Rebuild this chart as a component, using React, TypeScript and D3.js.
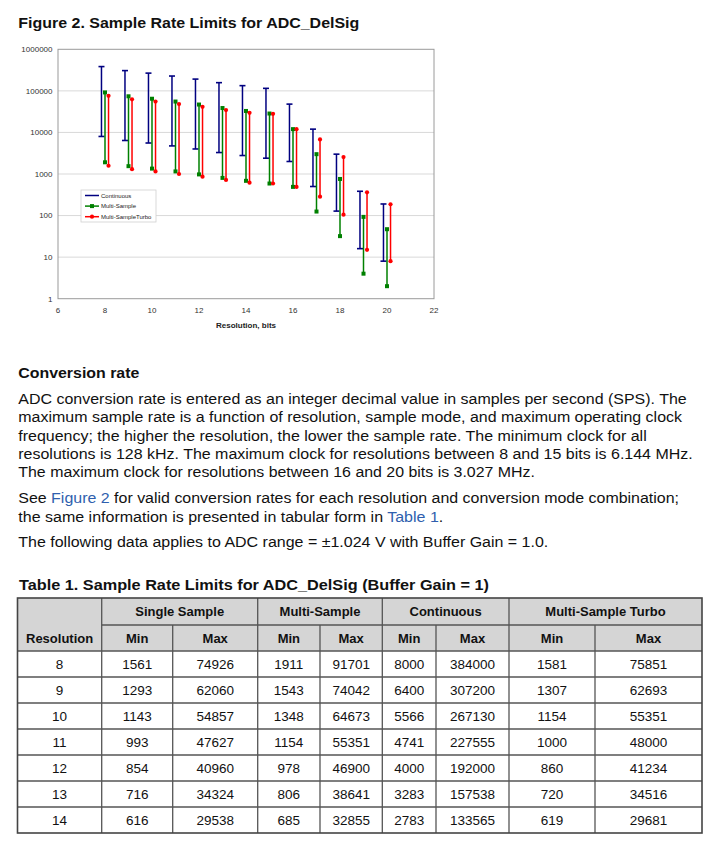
import React, {useEffect, useRef} from 'react';
import * as d3 from 'd3';

// chart data (8..14 from Table 1, 15..20)
const resolutions = [8, 9, 10, 11, 12, 13, 14, 15, 16, 17, 18, 19, 20];
const continuousMin = [8000, 6400, 5566, 4741, 4000, 3283, 2783, 2400, 2000, 500, 128, 16, 8];
const continuousMax = [384000, 307200, 267130, 227555, 192000, 157538, 133565, 115000, 48000, 12000, 3000, 384, 190];
const multiMin = [1911, 1543, 1348, 1154, 978, 806, 685, 590, 490, 125, 32, 4, 2];
const multiMax = [91701, 74042, 64673, 55351, 46900, 38641, 32855, 28500, 12000, 3000, 760, 93, 47];
const turboMin = [1581, 1307, 1154, 1000, 860, 720, 619, 590, 490, 285, 105, 15, 8];
const turboMax = [75851, 62693, 55351, 48000, 41234, 34516, 29681, 28000, 12000, 6800, 2560, 362, 187];

const seriesNames = ['Continuous', 'Multi-Sample', 'Multi-SampleTurbo'];
const xTicks = [6, 8, 10, 12, 14, 16, 18, 20, 22];
const yTicks = [1, 10, 100, 1000, 10000, 100000, 1000000];

// table data
const tableGroups = ['Single Sample', 'Multi-Sample', 'Continuous', 'Multi-Sample Turbo'];
const tableRows = 7;
const singleMin = [1561, 1293, 1143, 993, 854, 716, 616];
const singleMax = [74926, 62060, 54857, 47627, 40960, 34324, 29538];

const figureTitle = 'Figure 2. Sample Rate Limits for ADC_DelSig';
const sectionTitle = 'Conversion rate';
const tableTitle = 'Table 1. Sample Rate Limits for ADC_DelSig (Buffer Gain = 1)';
const paragraphLines = [
  'ADC conversion rate is entered as an integer decimal value in samples per second (SPS). The',
  'maximum sample rate is a function of resolution, sample mode, and maximum operating clock',
  'frequency; the higher the resolution, the lower the sample rate. The minimum clock for all',
  'resolutions is 128 kHz. The maximum clock for resolutions between 8 and 15 bits is 6.144 MHz.',
  'The maximum clock for resolutions between 16 and 20 bits is 3.027 MHz.',
];
const seeLines = [
  ['See ', 'Figure 2', ' for valid conversion rates for each resolution and conversion mode combination;'],
  ['the same information is presented in tabular form in ', 'Table 1', '.'],
];
const noteLine = 'The following data applies to ADC range = \u00b11.024 V with Buffer Gain = 1.0.';

const FONT = '"Liberation Sans", Arial, Helvetica, sans-serif';
const NARROW = '"Liberation Sans Narrow", "Arial Narrow", "Liberation Sans", Arial, sans-serif';
const LINK = '#2f5fae';

function Chart() {
  const ref = useRef<SVGGElement>(null);

  useEffect(() => {
    if (!ref.current) return;
    const root = d3.select(ref.current);
    root.selectAll('*').remove();

    const plot = {left: 58, right: 434, top: 49.3, bottom: 298.7};
    const x = d3.scaleLinear().domain([6, 22]).range([plot.left, plot.right]);
    const y = d3.scaleLog().domain([1, 1000000]).range([plot.bottom, plot.top]);

    root.selectAll('line.grid')
      .data(yTicks.slice(1, -1))
      .enter().append('line')
      .attr('x1', plot.left).attr('x2', plot.right)
      .attr('y1', d => y(d)).attr('y2', d => y(d))
      .attr('stroke', '#d9d9d9').attr('stroke-width', 1);

    root.append('rect')
      .attr('x', plot.left).attr('y', plot.top)
      .attr('width', plot.right - plot.left).attr('height', plot.bottom - plot.top)
      .attr('fill', 'none').attr('stroke', '#9a9a9a').attr('stroke-width', 1);

    root.selectAll('text.ytick')
      .data(yTicks)
      .enter().append('text')
      .attr('x', 52.5).attr('y', d => y(d) + 2.8)
      .attr('text-anchor', 'end')
      .attr('font-size', 8).attr('font-family', FONT).attr('fill', '#333')
      .text(d => String(d));

    root.selectAll('text.xtick')
      .data(xTicks)
      .enter().append('text')
      .attr('x', d => x(d)).attr('y', 313)
      .attr('text-anchor', 'middle')
      .attr('font-size', 8).attr('font-family', FONT).attr('fill', '#333')
      .text(d => String(d));

    root.append('text')
      .attr('x', (plot.left + plot.right) / 2).attr('y', 327.5)
      .attr('text-anchor', 'middle')
      .attr('font-size', 8).attr('font-weight', 'bold').attr('font-family', FONT).attr('fill', '#222')
      .text('Resolution, bits');

    const series = [
      {name: seriesNames[0], color: '#000080', min: continuousMin, max: continuousMax, offset: -0.15, marker: 'dash'},
      {name: seriesNames[1], color: '#008000', min: multiMin, max: multiMax, offset: 0, marker: 'square'},
      {name: seriesNames[2], color: '#ff0000', min: turboMin, max: turboMax, offset: 0.15, marker: 'circle'},
    ];

    const drawMarker = (g: any, kind: string, cx: number, cy: number, color: string) => {
      if (kind === 'dash') {
        g.append('line')
          .attr('x1', cx - 3).attr('x2', cx + 3).attr('y1', cy).attr('y2', cy)
          .attr('stroke', color).attr('stroke-width', 1.6);
      } else if (kind === 'square') {
        g.append('rect')
          .attr('x', cx - 2).attr('y', cy - 2).attr('width', 4).attr('height', 4)
          .attr('fill', color);
      } else {
        g.append('circle')
          .attr('cx', cx).attr('cy', cy).attr('r', 2.1)
          .attr('fill', color);
      }
    };

    series.forEach(s => {
      const g = root.append('g');
      resolutions.forEach((r, i) => {
        const cx = x(r + s.offset);
        g.append('line')
          .attr('x1', cx).attr('x2', cx)
          .attr('y1', y(s.min[i])).attr('y2', y(s.max[i]))
          .attr('stroke', s.color).attr('stroke-width', 1.5);
        drawMarker(g, s.marker, cx, y(s.min[i]), s.color);
        drawMarker(g, s.marker, cx, y(s.max[i]), s.color);
      });
    });

    // legend
    const legend = root.append('g');
    legend.append('rect')
      .attr('x', 81).attr('y', 190).attr('width', 75).attr('height', 32)
      .attr('fill', '#fff').attr('stroke', '#d0d0d0').attr('stroke-width', 0.8);
    series.forEach((s, i) => {
      const ly = 195.5 + i * 10.6;
      legend.append('line')
        .attr('x1', 85).attr('x2', 99).attr('y1', ly).attr('y2', ly)
        .attr('stroke', s.color).attr('stroke-width', 1.5);
      if (s.marker !== 'dash') drawMarker(legend, s.marker, 92, ly, s.color);
      legend.append('text')
        .attr('x', 101).attr('y', ly + 2.1)
        .attr('font-size', 6).attr('font-family', FONT).attr('fill', '#222')
        .text(s.name);
    });
  }, []);

  return <g ref={ref} />;
}

function Table() {
  const cols = [17.5, 101.7, 172.7, 257.7, 320, 382.3, 436, 509, 595, 702];
  const top = 598;
  const h1 = 625;
  const h2 = 651;
  const rowH = 26;
  const bottom = h2 + rowH * tableRows;
  const rows = d3.range(tableRows).map(i => [
    resolutions[i], singleMin[i], singleMax[i], multiMin[i], multiMax[i],
    continuousMin[i], continuousMax[i], turboMin[i], turboMax[i],
  ]);
  const stroke = '#555';

  return (
    <g>
      <rect x={cols[0]} y={top} width={cols[9] - cols[0]} height={h2 - top} fill="#d5d5d5" />
      {tableGroups.map((gname, i) => {
        const a = cols[1 + i * 2];
        const b = cols[3 + i * 2];
        return (
          <text key={gname} x={(a + b) / 2} y={(top + h1) / 2 + 4.6} textAnchor="middle"
            fontFamily={FONT} fontWeight="bold" fontSize={13} fill="#111">{gname}</text>
        );
      })}
      <text x={(cols[0] + cols[1]) / 2} y={(h1 + h2) / 2 + 4.6} textAnchor="middle"
        fontFamily={FONT} fontWeight="bold" fontSize={13} fill="#111">Resolution</text>
      {d3.range(8).map(i => (
        <text key={'mm' + i} x={(cols[1 + i] + cols[2 + i]) / 2} y={(h1 + h2) / 2 + 4.6} textAnchor="middle"
          fontFamily={FONT} fontWeight="bold" fontSize={13} fill="#111">{i % 2 === 0 ? 'Min' : 'Max'}</text>
      ))}
      {rows.map((row, r) => (
        <g key={'r' + r}>
          {row.map((v, c) => (
            <text key={c} x={(cols[c] + cols[c + 1]) / 2} y={h2 + rowH * r + rowH / 2 + 4.6} textAnchor="middle"
              fontFamily={NARROW} fontSize={13.5} fill="#111">{v}</text>
          ))}
        </g>
      ))}
      {/* horizontal rules */}
      <line x1={cols[1]} x2={cols[9]} y1={h1} y2={h1} stroke={stroke} strokeWidth={1.3} />
      {d3.range(tableRows).map(i => (
        <line key={'h' + i} x1={cols[0]} x2={cols[9]} y1={h2 + rowH * i} y2={h2 + rowH * i} stroke={stroke} strokeWidth={1.3} />
      ))}
      {/* vertical rules */}
      {cols.slice(1, 9).map((cx, i) => (
        <line key={'v' + i} x1={cx} x2={cx} y1={i % 2 === 0 ? top : h1} y2={bottom} stroke={stroke} strokeWidth={1.3} />
      ))}
      <rect x={cols[0]} y={top} width={cols[9] - cols[0]} height={bottom - top} fill="none" stroke="#444" strokeWidth={1.6} />
    </g>
  );
}

export default function App() {
  const paraWidths = [668.4, 663.7, 628.4, 674.4, 516.7];
  const seeWidths = [660.7, 425];
  return (
    <svg width={722} height={847} style={{position: 'absolute', left: 0, top: 0, background: '#fff'}}>
      <rect width={722} height={847} fill="#fff" />
      <text x={18.3} y={27.7} fontFamily={FONT} fontWeight="bold" fontSize={15} fill="#111"
        textLength={341} lengthAdjust="spacingAndGlyphs">{figureTitle}</text>
      <Chart />
      <text x={18.3} y={377.7} fontFamily={FONT} fontWeight="bold" fontSize={15} fill="#111"
        textLength={121} lengthAdjust="spacingAndGlyphs">{sectionTitle}</text>
      {paragraphLines.map((line, i) => (
        <text key={i} x={18.3} y={404 + i * 18.33} fontFamily={FONT} fontSize={15.2} fill="#111"
          textLength={paraWidths[i]} lengthAdjust="spacingAndGlyphs">{line}</text>
      ))}
      {seeLines.map((parts, i) => (
        <text key={'s' + i} x={18.3} y={503.3 + i * 18.33} fontFamily={FONT} fontSize={15.2} fill="#111"
          textLength={seeWidths[i]} lengthAdjust="spacingAndGlyphs">
          <tspan>{parts[0]}</tspan>
          <tspan fill={LINK}>{parts[1]}</tspan>
          <tspan>{parts[2]}</tspan>
        </text>
      ))}
      <text x={18.3} y={547.3} fontFamily={FONT} fontSize={15.2} fill="#111"
        textLength={530} lengthAdjust="spacingAndGlyphs">{noteLine}</text>
      <text x={19} y={590} fontFamily={FONT} fontWeight="bold" fontSize={14} fill="#111"
        textLength={470} lengthAdjust="spacingAndGlyphs">{tableTitle}</text>
      <Table />
    </svg>
  );
}
